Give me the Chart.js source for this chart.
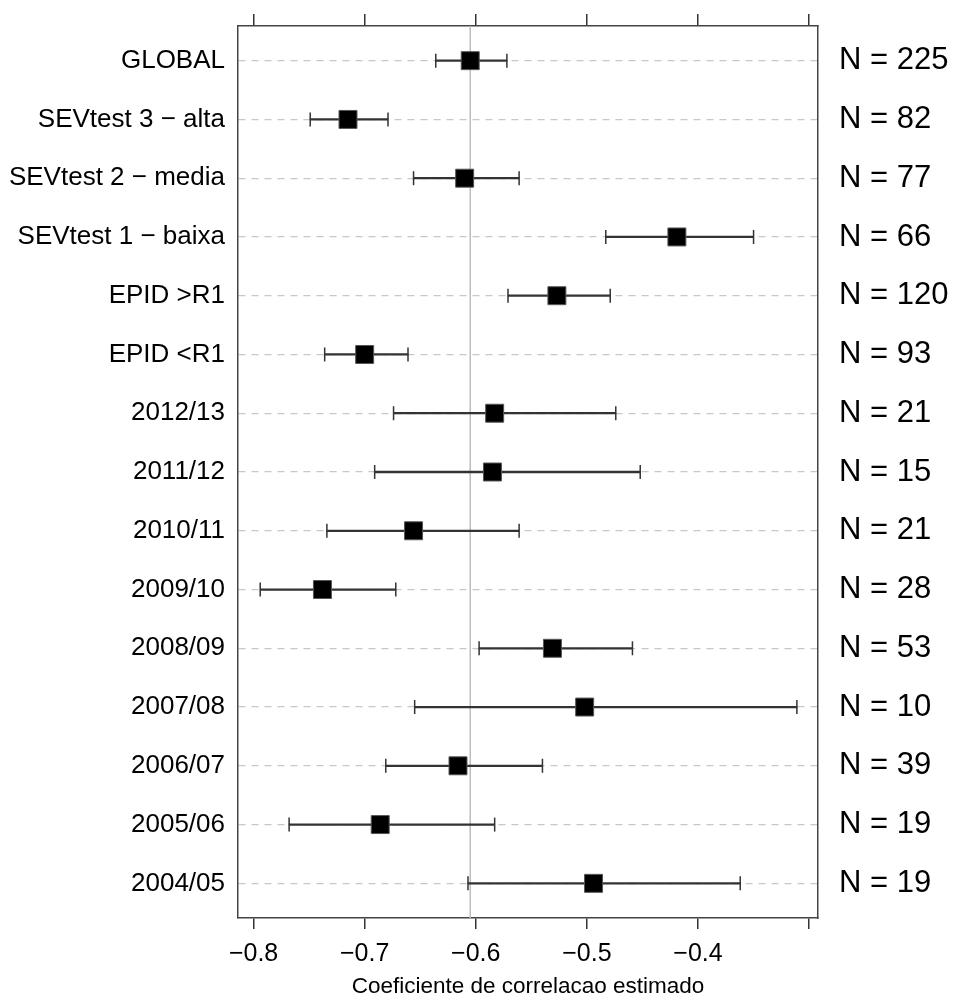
<!DOCTYPE html>
<html>
<head>
<meta charset="utf-8">
<script src="https://cdn.jsdelivr.net/npm/chart.js@4.4.1/dist/chart.umd.min.js"></script>
<style>
  body { margin: 0; background: #fff; }
  #wrap { width: 956px; height: 1001px; }
</style>
</head>
<body>
<div id="wrap"><canvas id="forest"></canvas></div>
<script>
// rows, top to bottom
const rows = ['GLOBAL', 'SEVtest 3 \u2212 alta', 'SEVtest 2 \u2212 media', 'SEVtest 1 \u2212 baixa',
    'EPID >R1', 'EPID <R1', '2012/13', '2011/12', '2010/11', '2009/10',
    '2008/09', '2007/08', '2006/07', '2005/06', '2004/05']
const estimate = [-0.605, -0.715, -0.610, -0.419, -0.527, -0.700, -0.583, -0.585, -0.656, -0.738,
    -0.531, -0.502, -0.616, -0.686, -0.494]
const lower = [-0.636, -0.749, -0.656, -0.483, -0.571, -0.736, -0.674, -0.691, -0.734, -0.794,
    -0.597, -0.655, -0.681, -0.768, -0.607]
const upper = [-0.572, -0.679, -0.561, -0.350, -0.479, -0.661, -0.474, -0.452, -0.561, -0.672,
    -0.459, -0.311, -0.540, -0.583, -0.362]
const nObs = [225, 82, 77, 66, 120, 93, 21, 15, 21, 28, 53, 10, 39, 19, 19]

const xTicks = [-0.8, -0.7, -0.6, -0.5, -0.4, -0.3]
const xTickLabels = ['\u22120.8', '\u22120.7', '\u22120.6', '\u22120.5', '\u22120.4', '']
const xTitle = 'Coeficiente de correlacao estimado'

const xMin = -0.814, xMax = -0.292
const yMin = -0.59, yMax = rows.length - 1 + 0.59

Chart.defaults.font.family = "'Liberation Sans', Arial, sans-serif"
Chart.defaults.color = '#000'

const boxColor = '#444'

function rowTicks(scale) {
    scale.ticks = rows.map((r, i) => ({ value: i }))
}
function xTickList(scale) {
    scale.ticks = xTicks.map(v => ({ value: v }))
}
// fixed box sizes so the plot area sits where the original one does
function fixSize(w, h) {
    return s => {
        if (w != null) s.width = w
        if (h != null) s.height = h
        s.paddingTop = 0
        s.paddingBottom = 0
        s.paddingLeft = 0
        s.paddingRight = 0
    }
}

const ctx = document.getElementById('forest')

new Chart(ctx, {
    type: 'scatter',
    data: {
        datasets: [{
                type: 'scatter',
                label: 'estimate',
                data: estimate.map((v, i) => ({ x: v, y: i })),
                pointStyle: 'rect',
                radius: 12.7,
                backgroundColor: '#000',
                borderColor: '#555',
                borderWidth: 1,
                xAxisID: 'x',
                yAxisID: 'y',
                order: 0
            },
            {
                type: 'scatter',
                label: 'caps',
                data: lower.map((v, i) => ({ x: v, y: i })).concat(upper.map((v, i) => ({ x: v, y: i }))),
                pointStyle: 'line',
                rotation: 90,
                radius: 7,
                borderColor: '#333',
                borderWidth: 1.5,
                xAxisID: 'x',
                yAxisID: 'y',
                order: 1
            },
            {
                type: 'bar',
                label: 'ci',
                indexAxis: 'y',
                data: lower.map((v, i) => ({ x: [v, upper[i]], y: i })),
                barThickness: 1.6,
                backgroundColor: '#333',
                borderWidth: 0,
                xAxisID: 'x',
                yAxisID: 'y',
                order: 2
            },
            {
                type: 'line',
                label: 'ref',
                data: [{ x: estimate[0], y: yMin }, { x: estimate[0], y: yMax }],
                borderColor: '#bdbdbd',
                borderWidth: 1.5,
                pointRadius: 0,
                xAxisID: 'x',
                yAxisID: 'y',
                order: 3
            }
        ]
    },
    options: {
        responsive: true,
        maintainAspectRatio: false,
        animation: false,
        events: [],
        layout: { padding: 0 },
        plugins: {
            legend: { display: false },
            tooltip: { enabled: false }
        },
        scales: {
            x: {
                type: 'linear',
                position: 'bottom',
                min: xMin,
                max: xMax,
                afterBuildTicks: xTickList,
                afterFit: fixSize(null, 83),
                ticks: {
                    callback: (v, i) => xTickLabels[i],
                    font: { size: 25 },
                    padding: 10,
                    maxRotation: 0,
                    autoSkip: false
                },
                grid: { drawOnChartArea: false, tickLength: 11, color: '#333', lineWidth: 1.5 },
                border: { color: boxColor, width: 1.5 },
                title: {
                    display: true,
                    text: xTitle,
                    font: { size: 22.5 },
                    padding: { top: 0, bottom: 1 }
                }
            },
            xTop: {
                type: 'linear',
                position: 'top',
                min: xMin,
                max: xMax,
                afterBuildTicks: xTickList,
                afterFit: fixSize(null, 26),
                ticks: { display: false },
                grid: { drawOnChartArea: false, tickLength: 12, color: '#333', lineWidth: 1.5 },
                border: { color: boxColor, width: 1.5 }
            },
            y: {
                type: 'linear',
                position: 'left',
                reverse: true,
                offset: false,
                min: yMin,
                max: yMax,
                afterBuildTicks: rowTicks,
                afterFit: fixSize(238, null),
                ticks: {
                    callback: (v, i) => rows[i],
                    font: { size: 26 },
                    padding: 13,
                    autoSkip: false
                },
                grid: { offset: false, drawTicks: false, color: '#c8c8c8', lineWidth: 1.3 },
                border: { color: boxColor, width: 1.5, dash: [7, 6] }
            },
            yRight: {
                type: 'linear',
                position: 'right',
                reverse: true,
                offset: false,
                min: yMin,
                max: yMax,
                afterBuildTicks: rowTicks,
                afterFit: fixSize(138, null),
                ticks: {
                    callback: (v, i) => 'N = ' + nObs[i],
                    font: { size: 31 },
                    padding: 21,
                    autoSkip: false
                },
                grid: { offset: false, drawOnChartArea: false, drawTicks: false },
                border: { color: boxColor, width: 1.5 }
            }
        }
    }
})
</script>
</body>
</html>
